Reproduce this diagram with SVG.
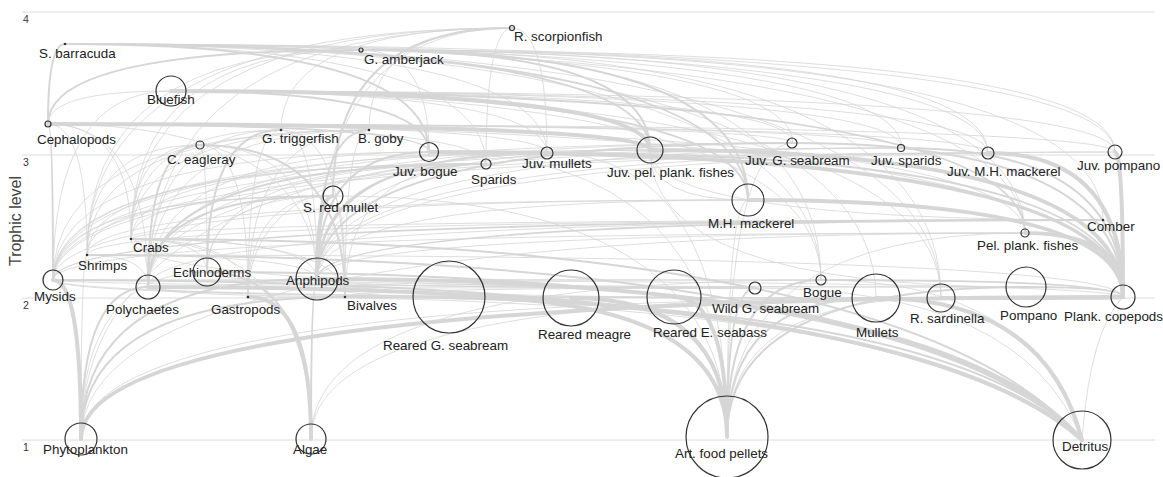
<svg xmlns="http://www.w3.org/2000/svg" width="1163" height="477" viewBox="0 0 1163 477">
<style>
.grid{stroke:#dcdcdc;stroke-width:1}
.ax{font-family:"Liberation Sans",Arial,sans-serif;font-size:10.5px;fill:#333}
.e1,.e2,.e3{fill:none;stroke:#d6d6d6;stroke-linecap:round}
.e1{stroke-width:0.8}
.e2{stroke-width:2}
.e3{stroke-width:4}
.n{fill:none;stroke:#333;stroke-width:1.2}
.d{fill:#333;stroke:none}
.t{font-family:"Liberation Sans",Arial,sans-serif;font-size:13.4px;fill:#222}
</style>
<rect width="1163" height="477" fill="#fff"/>
<g id="axes">
<line class="grid" x1="22" y1="12" x2="1155" y2="12"/>
<line class="grid" x1="22" y1="155" x2="1155" y2="155"/>
<line class="grid" x1="22" y1="298" x2="1155" y2="298"/>
<line class="grid" x1="22" y1="440" x2="1155" y2="440"/>
<text class="ax" x="23" y="23">4</text>
<text class="ax" x="23" y="166">3</text>
<text class="ax" x="23" y="309">2</text>
<text class="ax" x="23" y="451">1</text>
<text transform="translate(21,221) rotate(-90)" text-anchor="middle" style="font-family:'Liberation Sans',Arial,sans-serif;font-size:16px;fill:#444">Trophic level</text>
</g>
<g id="connectors">
<path class="e2" d="M650 150Q650 44 65 44M748 200Q748 44 65 44M429 152Q429 44 65 44M48 124Q48 44 65 44"/>
<path class="e1" d="M821 280Q821 44 65 44M547 153Q547 44 65 44M1025 233Q1025 44 65 44M941 298Q941 44 65 44M988 153Q988 44 65 44M1115 152Q1115 44 65 44M486 164Q486 44 65 44M876 298Q876 44 65 44M793 143Q793 44 65 44M902 148Q902 44 65 44"/>
<path class="e2" d="M48 124Q48 50 361 50M650 150Q650 50 361 50M748 200Q748 50 361 50"/>
<path class="e1" d="M429 152Q429 50 361 50M821 280Q821 50 361 50M131 239Q131 50 361 50M87 255Q87 50 361 50M1025 233Q1025 50 361 50M1115 152Q1115 50 361 50M988 153Q988 50 361 50M941 298Q941 50 361 50M1103 220Q1103 50 361 50"/>
<path class="e2" d="M333 196Q333 28 512 28"/>
<path class="e1" d="M131 239Q131 28 512 28M87 255Q87 28 512 28M486 164Q486 28 512 28M547 153Q547 28 512 28M148 287Q148 28 512 28M317 279Q317 28 512 28M369 130Q369 28 512 28M281 130Q281 28 512 28"/>
<path class="e3" d="M650 150Q650 91 171 91"/>
<path class="e2" d="M748 200Q748 91 171 91M429 152Q429 91 171 91M1025 233Q1025 91 171 91"/>
<path class="e1" d="M547 153Q547 91 171 91M793 143Q793 91 171 91M902 148Q902 91 171 91M988 153Q988 91 171 91M941 298Q941 91 171 91M821 280Q821 91 171 91M48 124Q48 91 171 91M1115 152Q1115 91 171 91M53 280Q53 91 171 91"/>
<path class="e3" d="M650 150Q650 124 48 124"/>
<path class="e2" d="M53 280Q53 124 48 124M429 152Q429 124 48 124"/>
<path class="e1" d="M87 255Q87 124 48 124M131 239Q131 124 48 124M317 279Q317 124 48 124M148 287Q148 124 48 124M1025 233Q1025 124 48 124M547 153Q547 124 48 124M1123 297Q1123 124 48 124M486 164Q486 124 48 124M793 143Q793 124 48 124M902 148Q902 124 48 124M988 153Q988 124 48 124M1115 152Q1115 124 48 124"/>
<path class="e2" d="M207 272Q207 130 281 130M317 279Q317 130 369 130"/>
<path class="e1" d="M131 239Q131 130 281 130M248 297Q248 130 281 130M345 297Q345 130 281 130M317 279Q317 130 281 130M148 287Q148 130 281 130M131 239Q131 130 369 130M87 255Q87 130 369 130M148 287Q148 130 369 130M248 297Q248 130 369 130M345 297Q345 130 369 130M53 280Q53 130 369 130"/>
<path class="e2" d="M345 297Q345 145 200 145M148 287Q148 145 200 145"/>
<path class="e1" d="M248 297Q248 145 200 145M131 239Q131 145 200 145M207 272Q207 145 200 145M317 279Q317 145 200 145M87 255Q87 145 200 145"/>
<path class="e3" d="M1123 297Q1123 152 429 152"/>
<path class="e2" d="M317 279Q317 152 429 152"/>
<path class="e1" d="M53 280Q53 152 429 152M148 287Q148 152 429 152M727 437Q727 152 429 152"/>
<path class="e2" d="M317 279Q317 164 486 164M148 287Q148 164 486 164"/>
<path class="e1" d="M207 272Q207 164 486 164M248 297Q248 164 486 164M345 297Q345 164 486 164M131 239Q131 164 486 164M87 255Q87 164 486 164M53 280Q53 164 486 164"/>
<path class="e2" d="M1123 297Q1123 153 547 153M317 279Q317 153 547 153"/>
<path class="e1" d="M148 287Q148 153 547 153M727 437Q727 153 547 153"/>
<path class="e3" d="M1123 297Q1123 150 650 150"/>
<path class="e1" d="M53 280Q53 150 650 150M317 279Q317 150 650 150M81 439Q81 150 650 150"/>
<path class="e2" d="M1123 297Q1123 143 793 143M317 279Q317 143 793 143"/>
<path class="e1" d="M148 287Q148 143 793 143M727 437Q727 143 793 143M53 280Q53 143 793 143"/>
<path class="e2" d="M1123 297Q1123 148 902 148"/>
<path class="e1" d="M317 279Q317 148 902 148M148 287Q148 148 902 148M53 280Q53 148 902 148"/>
<path class="e3" d="M1123 297Q1123 153 988 153M1123 297Q1123 152 1115 152"/>
<path class="e1" d="M53 280Q53 153 988 153M317 279Q317 153 988 153M317 279Q317 152 1115 152M53 280Q53 152 1115 152"/>
<path class="e3" d="M317 279Q317 196 333 196"/>
<path class="e2" d="M148 287Q148 196 333 196"/>
<path class="e1" d="M131 239Q131 196 333 196M87 255Q87 196 333 196M207 272Q207 196 333 196M345 297Q345 196 333 196M248 297Q248 196 333 196M53 280Q53 196 333 196M727 437Q727 196 333 196"/>
<path class="e3" d="M1123 297Q1123 200 748 200"/>
<path class="e1" d="M650 150Q650 200 748 200M53 280Q53 200 748 200M317 279Q317 200 748 200M727 437Q727 200 748 200M87 255Q87 200 748 200"/>
<path class="e2" d="M317 279Q317 220 1103 220M53 280Q53 220 1103 220"/>
<path class="e1" d="M131 239Q131 220 1103 220M87 255Q87 220 1103 220M650 150Q650 220 1103 220M1123 297Q1123 220 1103 220M148 287Q148 220 1103 220"/>
<path class="e3" d="M1123 297Q1123 233 1025 233"/>
<path class="e1" d="M81 439Q81 233 1025 233M53 280Q53 233 1025 233M317 279Q317 233 1025 233M727 437Q727 233 1025 233"/>
<path class="e2" d="M1082 440Q911 239 131 239M1082 440Q903 255 87 255"/>
<path class="e1" d="M148 287Q148 239 131 239M317 279Q317 239 131 239M248 297Q248 239 131 239M345 297Q345 239 131 239M311 439Q311 239 131 239M207 272Q207 239 131 239M317 279Q317 255 87 255M148 287Q148 255 87 255M1123 297Q1123 255 87 255M81 439Q81 255 87 255"/>
<path class="e2" d="M311 439Q311 272 207 272M1082 440Q925 272 207 272"/>
<path class="e1" d="M81 439Q81 272 207 272"/>
<path class="e3" d="M81 439Q81 280 53 280"/>
<path class="e2" d="M1082 440Q897 280 53 280"/>
<path class="e1" d="M1123 297Q1123 280 53 280"/>
<path class="e3" d="M1082 440Q944 279 317 279"/>
<path class="e2" d="M81 439Q81 279 317 279M311 439Q311 279 317 279"/>
<path class="e3" d="M1082 440Q914 287 148 287"/>
<path class="e2" d="M81 439Q81 287 148 287"/>
<path class="e3" d="M311 439Q311 297 248 297"/>
<path class="e1" d="M1082 440Q932 297 248 297"/>
<path class="e2" d="M81 439Q81 297 345 297M1082 440Q949 297 345 297"/>
<path class="e3" d="M727 437Q727 297 449 297M727 437Q727 298 571 298M727 437Q727 297 674 297"/>
<path class="e1" d="M317 279Q317 297 449 297M148 287Q148 297 449 297M53 280Q53 297 674 297"/>
<path class="e2" d="M727 437Q727 288 755 288"/>
<path class="e1" d="M317 279Q317 288 755 288M148 287Q148 288 755 288M345 297Q345 288 755 288M207 272Q207 288 755 288M131 239Q131 288 755 288M1082 440Q1023 288 755 288"/>
<path class="e2" d="M727 437Q727 280 821 280M1123 297Q1123 280 821 280"/>
<path class="e1" d="M317 279Q317 280 821 280M1082 440Q1035 280 821 280M311 439Q311 280 821 280M53 280Q53 280 821 280"/>
<path class="e3" d="M1082 440Q1045 298 876 298"/>
<path class="e2" d="M727 437Q727 298 876 298"/>
<path class="e1" d="M311 439Q311 298 876 298M148 287Q148 298 876 298M317 279Q317 298 876 298"/>
<path class="e3" d="M1123 297Q1123 298 941 298"/>
<path class="e1" d="M81 439Q81 298 941 298M727 437Q727 298 941 298M53 280Q53 298 941 298"/>
<path class="e2" d="M1123 297Q1123 287 1026 287M727 437Q727 287 1026 287"/>
<path class="e1" d="M317 279Q317 287 1026 287M53 280Q53 287 1026 287M650 150Q650 287 1026 287"/>
<path class="e3" d="M81 439Q81 297 1123 297"/>
<path class="e1" d="M1082 440Q1090 330 1123 297"/>
</g>
<g id="rscorp"><circle class="n" cx="512" cy="28" r="2.5"/><text class="t" x="514" y="41">R. scorpionfish</text></g>
<g id="sbarracuda"><circle class="d" cx="65" cy="44" r="1.3"/><text class="t" x="39" y="58">S. barracuda</text></g>
<g id="gamberjack"><circle class="n" cx="361" cy="50" r="2"/><text class="t" x="364" y="64">G. amberjack</text></g>
<g id="bluefish"><circle class="n" cx="171" cy="91" r="15"/><text class="t" x="147" y="104">Bluefish</text></g>
<g id="cephalopods"><circle class="n" cx="48" cy="124" r="3"/><text class="t" x="37" y="144">Cephalopods</text></g>
<g id="gtriggerfish"><circle class="d" cx="281" cy="130" r="1.3"/><text class="t" x="262" y="143">G. triggerfish</text></g>
<g id="bgoby"><circle class="d" cx="369" cy="130" r="1.3"/><text class="t" x="358" y="143">B. goby</text></g>
<g id="ceagleray"><circle class="n" cx="200" cy="145" r="4"/><text class="t" x="167" y="164">C. eagleray</text></g>
<g id="juvbogue"><circle class="n" cx="429" cy="152" r="9.5"/><text class="t" x="393" y="176">Juv. bogue</text></g>
<g id="sparids"><circle class="n" cx="486" cy="164" r="5"/><text class="t" x="471" y="184">Sparids</text></g>
<g id="juvmullets"><circle class="n" cx="547" cy="153" r="6"/><text class="t" x="522" y="168">Juv. mullets</text></g>
<g id="juvpel"><circle class="n" cx="650" cy="150" r="13"/><text class="t" x="607" y="177">Juv. pel. plank. fishes</text></g>
<g id="juvgseabream"><circle class="n" cx="792" cy="143" r="5"/><text class="t" x="745" y="165">Juv. G. seabream</text></g>
<g id="juvsparids"><circle class="n" cx="901" cy="148" r="3.5"/><text class="t" x="871" y="165">Juv. sparids</text></g>
<g id="juvmhmackerel"><circle class="n" cx="988" cy="153" r="6"/><text class="t" x="947" y="176">Juv. M.H. mackerel</text></g>
<g id="juvpompano"><circle class="n" cx="1115" cy="152" r="7"/><text class="t" x="1077" y="170">Juv. pompano</text></g>
<g id="sredmullet"><circle class="n" cx="333" cy="196" r="10"/><text class="t" x="303" y="212">S. red mullet</text></g>
<g id="mhmackerel"><circle class="n" cx="748" cy="200" r="16"/><text class="t" x="708" y="228">M.H. mackerel</text></g>
<g id="comber"><circle class="d" cx="1103" cy="220" r="1.3"/><text class="t" x="1087" y="231">Comber</text></g>
<g id="pelplank"><circle class="n" cx="1025" cy="233" r="4"/><text class="t" x="977" y="250">Pel. plank. fishes</text></g>
<g id="crabs"><circle class="d" cx="131" cy="239" r="1.3"/><text class="t" x="133" y="252">Crabs</text></g>
<g id="shrimps"><circle class="d" cx="87" cy="255" r="1.3"/><text class="t" x="78" y="270">Shrimps</text></g>
<g id="echinoderms"><circle class="n" cx="207" cy="272" r="14"/><text class="t" x="173" y="277">Echinoderms</text></g>
<g id="mysids"><circle class="n" cx="53" cy="280" r="10"/><text class="t" x="34" y="301">Mysids</text></g>
<g id="amphipods"><circle class="n" cx="317" cy="279" r="21"/><text class="t" x="286" y="285">Anphipods</text></g>
<g id="polychaetes"><circle class="n" cx="148" cy="287" r="12"/><text class="t" x="106" y="314">Polychaetes</text></g>
<g id="gastropods"><circle class="d" cx="248" cy="297" r="1.3"/><text class="t" x="211" y="314">Gastropods</text></g>
<g id="bivalves"><circle class="d" cx="345" cy="297" r="1.3"/><text class="t" x="347" y="310">Bivalves</text></g>
<g id="rgseabream"><circle class="n" cx="449" cy="297" r="36"/><text class="t" x="383" y="350">Reared G. seabream</text></g>
<g id="rmeagre"><circle class="n" cx="571" cy="298" r="28"/><text class="t" x="538" y="339">Reared meagre</text></g>
<g id="reseabass"><circle class="n" cx="674" cy="297" r="27"/><text class="t" x="653" y="337">Reared E. seabass</text></g>
<g id="wildgseabream"><circle class="n" cx="755" cy="288" r="6"/><text class="t" x="712" y="313">Wild G. seabream</text></g>
<g id="bogue"><circle class="n" cx="821" cy="280" r="5"/><text class="t" x="803" y="297">Bogue</text></g>
<g id="mullets"><circle class="n" cx="876" cy="298" r="24"/><text class="t" x="856" y="337">Mullets</text></g>
<g id="rsardinella"><circle class="n" cx="941" cy="298" r="14"/><text class="t" x="910" y="323">R. sardinella</text></g>
<g id="pompano"><circle class="n" cx="1026" cy="287" r="20"/><text class="t" x="1000" y="320">Pompano</text></g>
<g id="copepods"><circle class="n" cx="1123" cy="297" r="12"/><text class="t" x="1064" y="321">Plank. copepods</text></g>
<g id="phytoplankton"><circle class="n" cx="81" cy="439" r="16"/><text class="t" x="43" y="454">Phytoplankton</text></g>
<g id="algae"><circle class="n" cx="311" cy="439" r="15"/><text class="t" x="293" y="454">Algae</text></g>
<g id="pellets"><circle class="n" cx="727" cy="437" r="41"/><text class="t" x="675" y="458">Art. food pellets</text></g>
<g id="detritus"><circle class="n" cx="1082" cy="440" r="29"/><text class="t" x="1062" y="451">Detritus</text></g>
</svg>
